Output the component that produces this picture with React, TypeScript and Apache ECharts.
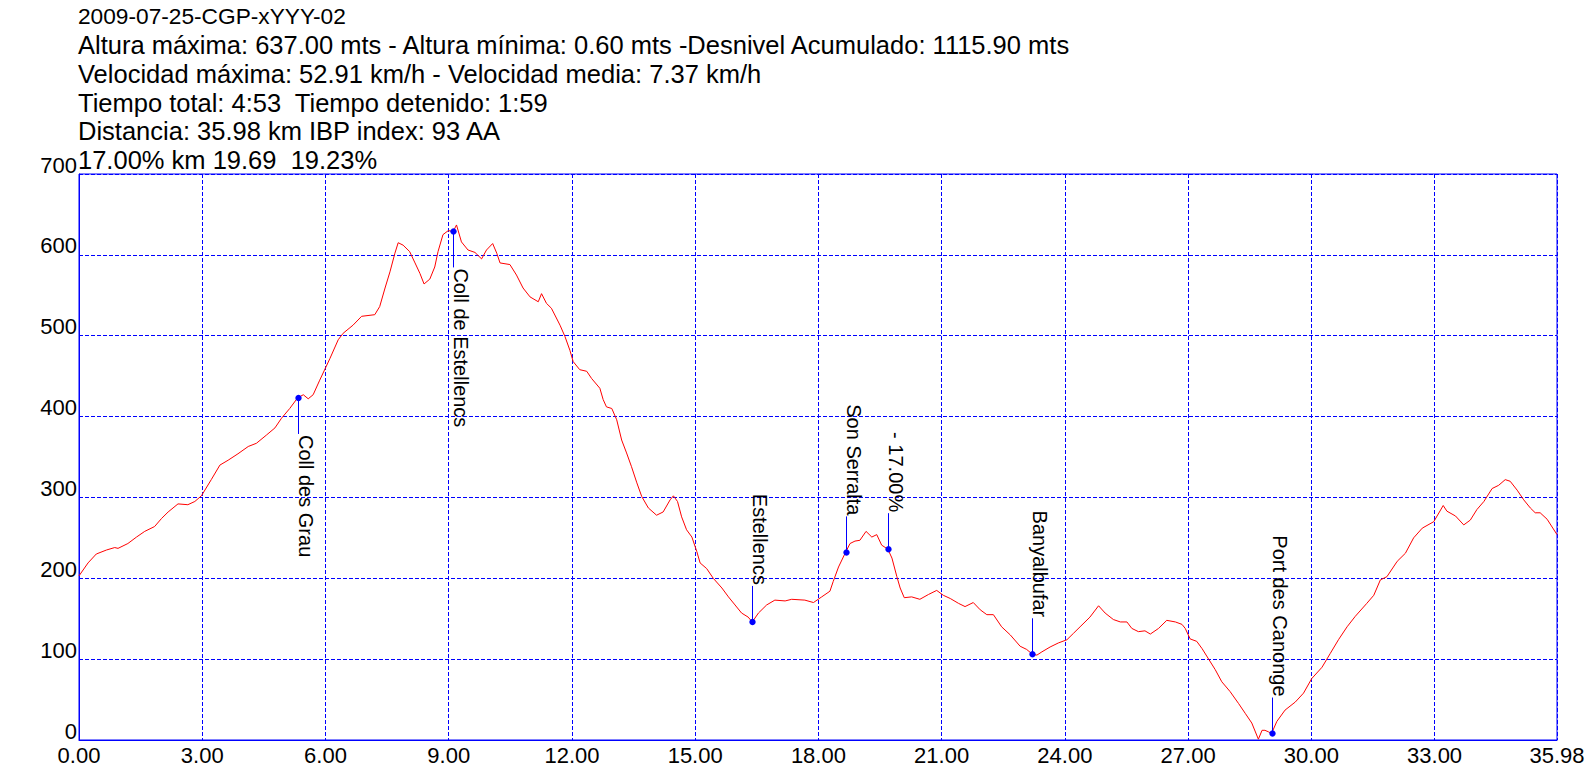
import React, { useEffect, useRef } from "react";
import * as echarts from "echarts";

const headerLines = [
  "2009-07-25-CGP-xYYY-02",
  "Altura máxima: 637.00 mts - Altura mínima: 0.60 mts -Desnivel Acumulado: 1115.90 mts",
  "Velocidad máxima: 52.91 km/h - Velocidad media: 7.37 km/h",
  "Tiempo total: 4:53  Tiempo detenido: 1:59",
  "Distancia: 35.98 km IBP index: 93 AA",
  "17.00% km 19.69  19.23%",
];

const distanceKm = [
  0.0, 0.22, 0.42, 0.67, 0.87, 0.95, 1.19, 1.4, 1.6, 1.84, 2.01, 2.17, 2.41, 2.65, 2.82, 2.98,
  3.22, 3.43, 3.63, 3.87, 4.12, 4.32, 4.56, 4.77, 4.93, 5.13, 5.32, 5.46, 5.58, 5.7, 5.86,
  6.11, 6.31, 6.43, 6.67, 6.88, 7.2, 7.32, 7.45, 7.57, 7.69, 7.77, 7.89, 8.05, 8.18, 8.3, 8.4,
  8.54, 8.66, 8.74, 8.86, 8.99, 9.11, 9.19, 9.31, 9.47, 9.64, 9.8, 9.92, 10.07, 10.17, 10.25,
  10.49, 10.65, 10.81, 10.98, 11.18, 11.26, 11.38, 11.5, 11.71, 11.83, 11.95, 12.03, 12.19, 12.36,
  12.48, 12.68, 12.76, 12.84, 12.97, 13.09, 13.21, 13.33, 13.45, 13.58, 13.7, 13.86, 14.06, 14.22,
  14.39, 14.47, 14.57, 14.67, 14.79, 14.92, 15.04, 15.12, 15.28, 15.44, 15.65, 15.81, 15.97, 16.13,
  16.29, 16.39, 16.54, 16.74, 16.94, 17.19, 17.35, 17.67, 17.88, 18.08, 18.28, 18.36, 18.49, 18.66,
  18.77, 18.89, 19.01, 19.16, 19.3, 19.42, 19.54, 19.69, 19.79, 19.91, 19.99, 20.09, 20.27, 20.47,
  20.68, 20.88, 21.04, 21.21, 21.41, 21.57, 21.77, 21.94, 22.1, 22.26, 22.46, 22.67, 22.91, 23.07,
  23.21, 23.32, 23.44, 23.64, 23.84, 24.05, 24.21, 24.37, 24.61, 24.82, 24.98, 25.18, 25.35, 25.51,
  25.63, 25.79, 25.95, 26.08, 26.28, 26.48, 26.69, 26.85, 26.93, 27.05, 27.21, 27.34, 27.5, 27.66,
  27.82, 28.02, 28.23, 28.39, 28.55, 28.71, 28.8, 28.87, 28.96, 29.03, 29.16, 29.36, 29.61, 29.81,
  30.01, 30.26, 30.46, 30.66, 30.87, 31.07, 31.35, 31.52, 31.68, 31.84, 32.09, 32.29, 32.49, 32.7,
  32.98, 33.21, 33.3, 33.51, 33.71, 33.87, 34.03, 34.2, 34.4, 34.56, 34.72, 34.84, 35.01, 35.17,
  35.33, 35.45, 35.57, 35.74, 35.98,
];

const altitudeM = [
  203, 219, 230, 235, 238, 237, 243, 251, 258, 264, 274, 282, 292, 291, 295, 302,
  322, 340, 346, 354, 363, 367, 377, 386, 398, 410, 423, 427, 422, 427, 445,
  472, 495, 503, 513, 524, 526, 536, 559, 579, 602, 615, 612, 604, 590, 577, 564,
  570, 585, 604, 625, 630, 629, 637, 616, 606, 603, 595, 606, 614, 602, 590,
  588, 575, 559, 548, 542, 552, 540, 534, 513, 499, 482, 468, 458, 456,
  447, 435, 421, 412, 410, 396, 371, 355, 338, 318, 301, 287, 278, 282,
  297, 302, 295, 276, 260, 251, 233, 219, 212, 200, 188, 177, 167, 157,
  152, 146, 157, 167, 173, 172, 174, 173, 170, 177, 184, 196, 214, 232,
  243, 246, 247, 258, 251, 254, 241, 236, 225, 202, 188, 176, 177, 174,
  180, 185, 179, 175, 169, 165, 170, 161, 155, 155, 140, 130, 116, 112,
  106, 105, 109, 115, 120, 124, 132, 140, 152, 166, 157, 149, 146, 146,
  138, 134, 135, 131, 138, 148, 146, 143, 138, 125, 122, 113, 100, 87,
  72, 60, 45, 33, 21, 1, 12, 12, 10, 8, 23, 37, 47, 58,
  76, 90, 107, 124, 140, 153, 169, 179, 198, 202, 221, 231, 250, 262,
  270, 290, 283, 277, 266, 272, 285, 295, 311, 315, 322, 320, 309, 297,
  287, 281, 281, 273, 254,
];

const markerNames = [
  "Coll des Grau",
  "Coll de Estellencs",
  "Estellencs",
  "Son Serralta",
  "- 17.00%",
  "Banyalbufar",
  "Port des Canonge",
];
const markerKm = [5.32, 9.11, 16.39, 18.66, 19.69, 23.21, 29.03];
const markerAlt = [423, 629, 146, 232, 236, 106, 8];
const markerBelow = [true, true, false, false, false, false, false];

const xMin = 0;
const xMax = 35.98;
const xStep = 3;
const yMin = 0;
const yMax = 700;
const yStep = 100;

export default function App() {
  const ref = useRef<HTMLDivElement>(null);

  useEffect(() => {
    if (!ref.current) return;
    const chart = echarts.init(ref.current, null, { renderer: "svg" });
    const font = "'Liberation Sans', Arial, Helvetica, sans-serif";
    const blue = "#0000ff";

    const headerSizes = [22.7, 25.5, 25.5, 25.5, 25.5, 25.5];
    const headerBaselines = [24, 54, 82.7, 111.4, 140.1, 168.8];

    chart.setOption({
      animation: false,
      backgroundColor: "#ffffff",
      graphic: headerLines.map((t, i) => ({
        type: "text",
        x: 78,
        y: headerBaselines[i] - headerSizes[i] * 0.3465,
        style: {
          text: t,
          fill: "#000000",
          font: `${headerSizes[i]}px ${font}`,
          align: "left",
          verticalAlign: "middle",
        },
      })),
      grid: {
        left: 79,
        top: 174,
        width: 1478,
        height: 566,
        show: true,
        borderColor: blue,
        borderWidth: 1,
        backgroundColor: "transparent",
        containLabel: false,
        outerBoundsMode: "none",
      },
      xAxis: {
        type: "value",
        min: xMin,
        max: xMax,
        interval: xStep,
        axisLine: { show: true, lineStyle: { color: blue, width: 1 } },
        axisTick: { show: false },
        splitLine: { show: true, lineStyle: { color: blue, width: 1, type: [4, 2] } },
        axisLabel: {
          show: true,
          showMinLabel: true,
          showMaxLabel: true,
          hideOverlap: false,
          color: "#000000",
          fontSize: 22,
          fontFamily: font,
          margin: 4,
          formatter: (v: number) => v.toFixed(2),
        },
      },
      yAxis: {
        type: "value",
        min: yMin,
        max: yMax,
        interval: yStep,
        axisLine: { show: true, lineStyle: { color: blue, width: 1 } },
        axisTick: { show: false },
        splitLine: { show: true, lineStyle: { color: blue, width: 1, type: [4, 2] } },
        axisLabel: {
          show: true,
          showMinLabel: true,
          showMaxLabel: true,
          color: "#000000",
          fontSize: 22,
          fontFamily: font,
          margin: 2,
          verticalAlign: "bottom",
          lineHeight: 18,
          formatter: (v: number) => String(v),
        },
      },
      series: [
        {
          type: "line",
          data: distanceKm.map((d, i) => [d, altitudeM[i]]),
          showSymbol: false,
          symbol: "none",
          lineStyle: { color: "#ff0000", width: 1 },
          z: 3,
        },
        {
          type: "custom",
          z: 5,
          clip: false,
          data: markerKm.map((k, i) => [k, markerAlt[i], markerBelow[i] ? 1 : -1, i]),
          renderItem: (params: any, api: any) => {
            const p = api.coord([api.value(0), api.value(1)]);
            const dir = api.value(2);
            const idx = api.value(3);
            const len = 36;
            const x = Math.round(p[0]) + 0.5;
            const endY = p[1] + dir * len;
            return {
              type: "group",
              children: [
                {
                  type: "line",
                  shape: { x1: x, y1: p[1], x2: x, y2: endY },
                  style: { stroke: blue, lineWidth: 1 },
                },
                {
                  type: "circle",
                  shape: { cx: x, cy: p[1], r: 3.2 },
                  style: { fill: blue },
                },
                {
                  type: "text",
                  x: x + 7,
                  y: endY + dir * 1,
                  rotation: -Math.PI / 2,
                  style: {
                    text: markerNames[idx],
                    fill: "#000000",
                    font: `20px ${font}`,
                    align: dir > 0 ? "left" : "right",
                    verticalAlign: "middle",
                  },
                },
              ],
            };
          },
        },
      ],
    });

    return () => chart.dispose();
  }, []);

  return (
    <div
      ref={ref}
      style={{ position: "absolute", left: 0, top: 0, width: 1596, height: 778 }}
    />
  );
}
